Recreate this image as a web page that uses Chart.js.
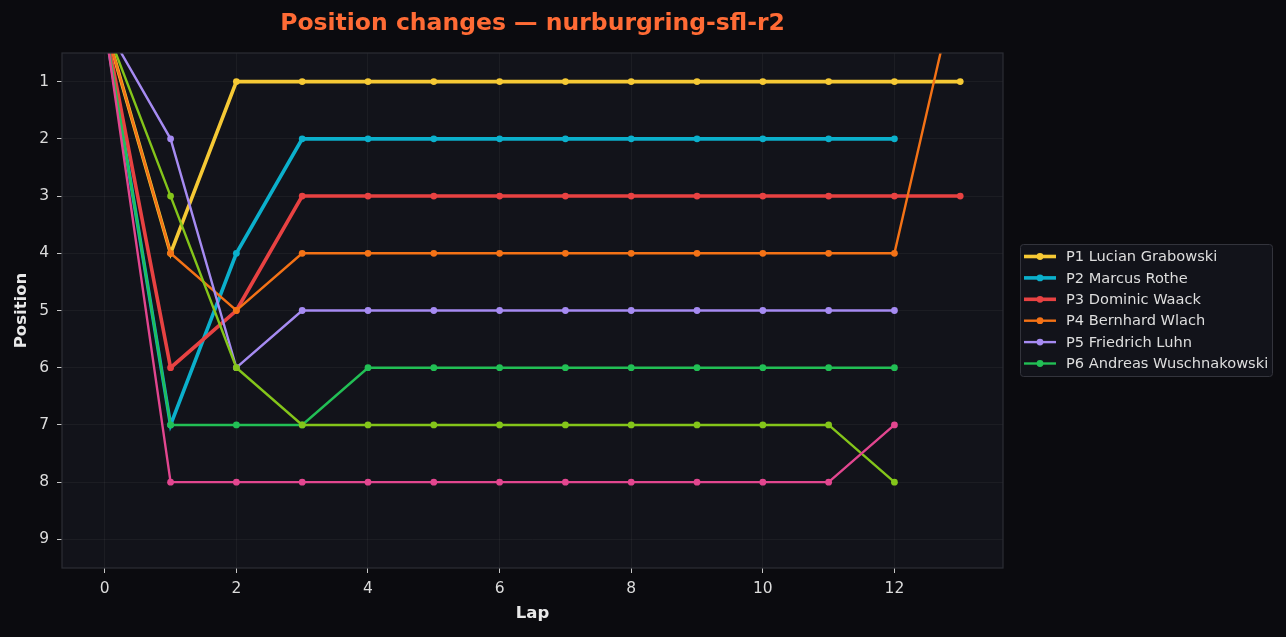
<!DOCTYPE html>
<html>
<head>
<meta charset="utf-8">
<script src="https://cdn.jsdelivr.net/npm/chart.js@4.4.1/dist/chart.umd.min.js"></script>
<style>
  html, body { margin: 0; padding: 0; background: #0b0b0f; }
  #wrap { width: 1286px; height: 637px; }
</style>
</head>
<body>
<div id="wrap"><canvas id="posChart" width="1286" height="637"></canvas></div>
<script>
(function () {
    var laps = [0, 1, 2, 3, 4, 5, 6, 7, 8, 9, 10, 11, 12, 13];
    var xTicks = [0, 2, 4, 6, 8, 10, 12];
    var yTicks = [1, 2, 3, 4, 5, 6, 7, 8, 9];

    var grabowski = [0, 4, 1, 1, 1, 1, 1, 1, 1, 1, 1, 1, 1, 1];
    var rothe = [0, 7, 4, 2, 2, 2, 2, 2, 2, 2, 2, 2, 2, null];
    var waack = [0, 6, 5, 3, 3, 3, 3, 3, 3, 3, 3, 3, 3, 3];
    var wlach = [0, 4, 5, 4, 4, 4, 4, 4, 4, 4, 4, 4, 4, -1];
    var luhn = [0, 2, 6, 5, 5, 5, 5, 5, 5, 5, 5, 5, 5, null];
    var wuschnakowski = [0, 7, 7, 7, 6, 6, 6, 6, 6, 6, 6, 6, 6, null];
    var driver7 = [0, 3, 6, 7, 7, 7, 7, 7, 7, 7, 7, 7, 8, null];
    var driver8 = [0, 8, 8, 8, 8, 8, 8, 8, 8, 8, 8, 8, 7, null];

    var names = ['P1 Lucian Grabowski', 'P2 Marcus Rothe', 'P3 Dominic Waack',
        'P4 Bernhard Wlach', 'P5 Friedrich Luhn', 'P6 Andreas Wuschnakowski', '', ''];
    var series = [grabowski, rothe, waack, wlach, luhn, wuschnakowski, driver7, driver8];
    var colors = ['#f6c935', '#0bb0cc', '#e84242', '#f47216', '#a68bf2', '#22bf55', '#84c51a', '#e2468f'];
    var widths = [3.6, 3.6, 3.6, 2.4, 2.4, 2.4, 2.4, 2.4];

    var datasets = series.map(function (vals, i) {
        return {
            label: names[i],
            data: laps.map(function (lap, j) { return { x: lap, y: vals[j] }; }),
            borderColor: colors[i],
            backgroundColor: colors[i],
            borderWidth: widths[i],
            pointRadius: 3.4,
            pointHoverRadius: 3.4,
            pointBorderWidth: 0,
            tension: 0,
            spanGaps: false,
            order: series.length - i
        };
    });

    // plot area background + border
    var areaBg = {
        id: 'areaBg',
        beforeDraw: function (chart) {
            var a = chart.chartArea, c = chart.ctx;
            c.save();
            c.fillStyle = '#12131a';
            c.fillRect(a.left, a.top, a.right - a.left, a.bottom - a.top);
            c.restore();
        },
        afterDatasetsDraw: function (chart) {
            var a = chart.chartArea, c = chart.ctx;
            c.save();
            c.strokeStyle = '#2c2d35';
            c.lineWidth = 1.2;
            c.strokeRect(a.left, a.top, a.right - a.left, a.bottom - a.top);
            c.restore();
        }
    };

    // title centred over the plot, legend box on the right
    var extras = {
        id: 'extras',
        afterDraw: function (chart) {
            var a = chart.chartArea, c = chart.ctx;
            c.save();
            c.fillStyle = '#ff6b35';
            c.font = 'bold 23.5px "DejaVu Sans"';
            c.textAlign = 'center';
            c.textBaseline = 'middle';
            c.fillText('Position changes \u2014 nurburgring-sfl-r2', (a.left + a.right) / 2, 24);

            var bx = 1020, by = 244, bw = 252, bh = 132;
            c.fillStyle = '#12131a';
            c.strokeStyle = '#33343c';
            c.lineWidth = 1;
            c.beginPath();
            c.roundRect(bx + 0.5, by + 0.5, bw, bh, 3);
            c.fill();
            c.stroke();

            c.font = '14.6px "DejaVu Sans"';
            c.textAlign = 'left';
            var shown = chart.data.datasets.filter(function (d) { return d.label; });
            shown.forEach(function (d, i) {
                var y = 256.5 + i * 21.4;
                c.strokeStyle = d.borderColor;
                c.lineWidth = d.borderWidth;
                c.beginPath();
                c.moveTo(1024, y);
                c.lineTo(1056, y);
                c.stroke();
                c.fillStyle = d.borderColor;
                c.beginPath();
                c.arc(1040, y, 3.4, 0, Math.PI * 2);
                c.fill();
                c.fillStyle = '#dedede';
                c.fillText(d.label, 1066, y + 1);
            });
            c.restore();
        }
    };

    var ctx = document.getElementById('posChart').getContext('2d');
    new Chart(ctx, {
        type: 'line',
        data: { datasets: datasets },
        plugins: [areaBg, extras],
        options: {
            responsive: false,
            animation: false,
            layout: { padding: { top: 53, right: 283, bottom: 0, left: 0 } },
            plugins: {
                legend: { display: false },
                title: { display: false },
                tooltip: { enabled: false }
            },
            scales: {
                x: {
                    type: 'linear',
                    min: -0.65,
                    max: 13.65,
                    afterBuildTicks: function (s) { s.ticks = xTicks.map(function (v) { return { value: v }; }); },
                    afterFit: function (s) { s.height = 69; },
                    border: { display: false },
                    grid: { color: 'rgba(255,255,255,0.045)', tickColor: '#c8c8c8', tickLength: 5, lineWidth: 1 },
                    ticks: { color: '#dcdcdc', font: { family: 'DejaVu Sans', size: 15.5 }, padding: 7, maxRotation: 0 },
                    title: { display: true, text: 'Lap', color: '#e8e8e8', font: { family: 'DejaVu Sans', size: 16.5, weight: 'bold' }, padding: { top: 4, bottom: 13 } }
                },
                y: {
                    type: 'linear',
                    reverse: true,
                    min: 0.5,
                    max: 9.5,
                    afterBuildTicks: function (s) { s.ticks = yTicks.map(function (v) { return { value: v }; }); },
                    afterFit: function (s) { s.width = 62; },
                    border: { display: false },
                    grid: { color: 'rgba(255,255,255,0.045)', tickColor: '#c8c8c8', tickLength: 5, lineWidth: 1 },
                    ticks: { color: '#dcdcdc', font: { family: 'DejaVu Sans', size: 15.5 }, padding: 8 },
                    title: { display: true, text: 'Position', color: '#e8e8e8', font: { family: 'DejaVu Sans', size: 16.5, weight: 'bold' }, padding: { top: 12, bottom: 4 } }
                }
            }
        }
    });
})();
</script>
</body>
</html>
